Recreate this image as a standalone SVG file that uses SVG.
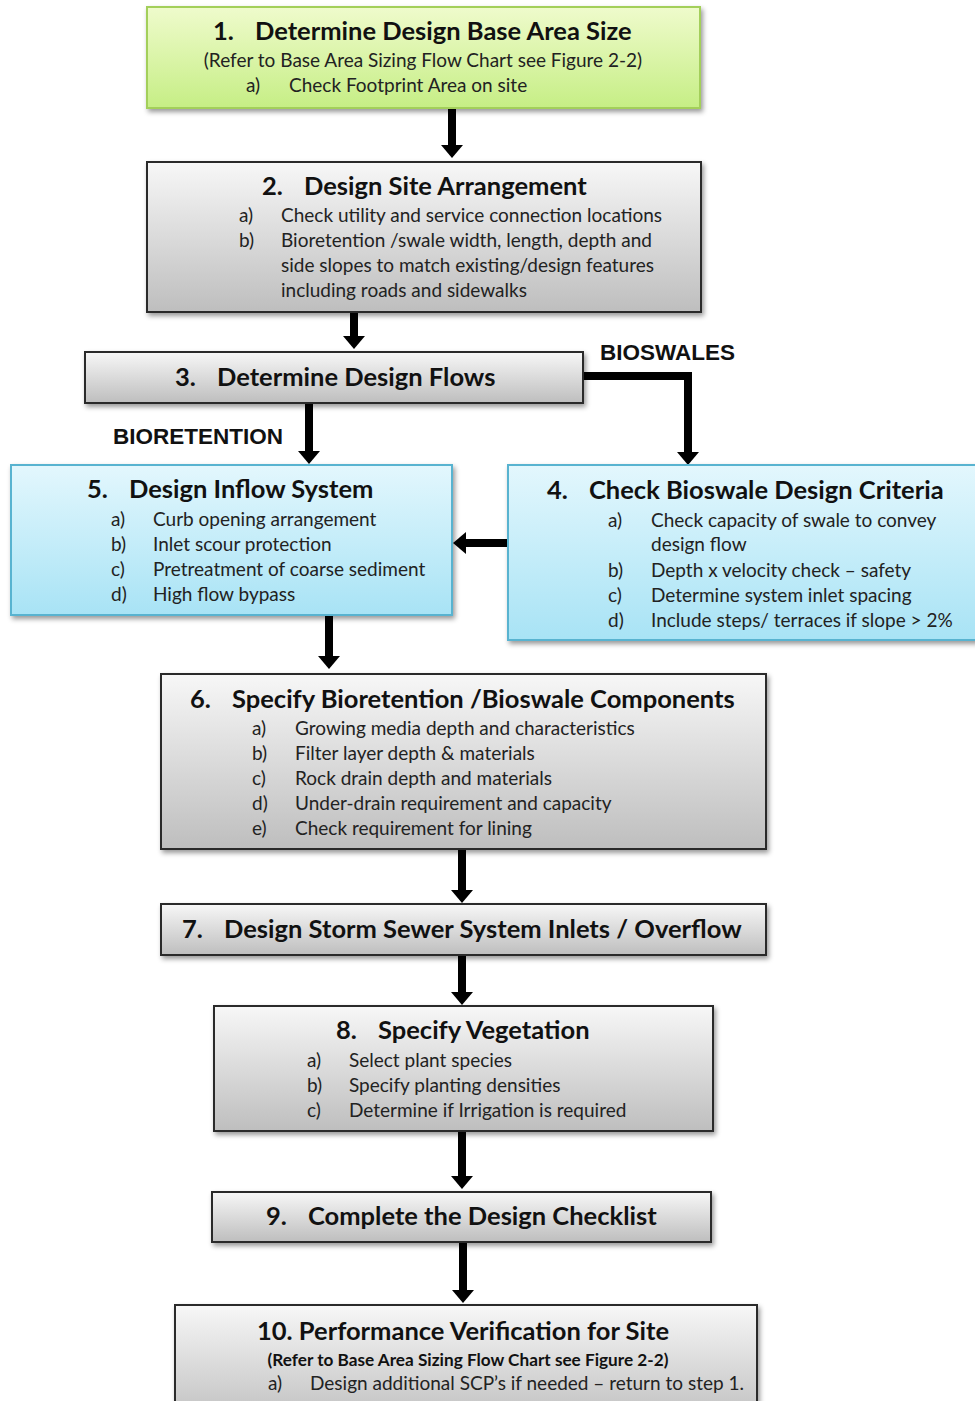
<svg xmlns="http://www.w3.org/2000/svg" width="975" height="1401" viewBox="0 0 975 1401">
<defs>
<linearGradient id="gGray" x1="0" y1="0" x2="0" y2="1"><stop offset="0" stop-color="#f7f7f7"/><stop offset="1" stop-color="#bebebe"/></linearGradient>
<linearGradient id="gGreen" x1="0" y1="0" x2="0" y2="1"><stop offset="0" stop-color="#effbcc"/><stop offset="1" stop-color="#c6ee85"/></linearGradient>
<linearGradient id="gBlue" x1="0" y1="0" x2="0" y2="1"><stop offset="0" stop-color="#e3f7fd"/><stop offset="1" stop-color="#a8e3f5"/></linearGradient>
<filter id="sh" x="-5%" y="-10%" width="112%" height="130%"><feDropShadow dx="2" dy="3" stdDeviation="2.5" flood-color="#000" flood-opacity="0.4"/></filter>
<marker id="ah" markerUnits="userSpaceOnUse" markerWidth="14" markerHeight="22" viewBox="0 0 14 22" refX="0" refY="11" orient="auto"><path d="M0,0 L13,11 L0,22 z" fill="#000"/></marker>
<style>
.gray{fill:url(#gGray);stroke:#2b2b2b;stroke-width:2;filter:url(#sh)}
.green{fill:url(#gGreen);stroke:#a3cf5a;stroke-width:2;filter:url(#sh)}
.blue{fill:url(#gBlue);stroke:#58b3d0;stroke-width:2;filter:url(#sh)}
.t{font-family:Lato,"Open Sans","Liberation Sans",sans-serif;font-weight:bold;font-size:25.5px;fill:#111}
.s{font-family:Lato,"Open Sans","Liberation Sans",sans-serif;font-size:19px;fill:#222}
.sb{font-family:Lato,"Open Sans","Liberation Sans",sans-serif;font-weight:bold;font-size:17.2px;fill:#111}
.lab{font-family:"Liberation Sans",Arial,sans-serif;font-weight:bold;font-size:22.5px;fill:#111}
.c{fill:none;stroke:#000;stroke-width:8;marker-end:url(#ah)}
</style>
</defs>
<g id="connectors">
<path class="c" d="M452,109 V145"/>
<path class="c" d="M354,313 V336"/>
<path class="c" d="M583,376 H688 V452"/>
<path class="c" d="M309,404 V451"/>
<path class="c" d="M508,543 H466"/>
<path class="c" d="M329,616 V656"/>
<path class="c" d="M462,850 V890"/>
<path class="c" d="M462,956 V992"/>
<path class="c" d="M462,1132 V1176"/>
<path class="c" d="M463,1243 V1290"/>
</g>
<g id="labels">
<text class="lab" x="600" y="360">BIOSWALES</text>
<text class="lab" x="113" y="444">BIORETENTION</text>
</g>
<g id="n1">
<rect class="green" x="147" y="7" width="553" height="101"/>
<text class="t" y="40"><tspan x="213">1.</tspan><tspan x="255">Determine Design Base Area Size</tspan></text>
<text class="s" x="423" y="67" text-anchor="middle">(Refer to Base Area Sizing Flow Chart see Figure 2-2)</text>
<text class="s" y="92"><tspan x="246">a)</tspan><tspan x="289">Check Footprint Area on site</tspan></text>
</g>
<g id="n2">
<rect class="gray" x="147" y="162" width="554" height="150"/>
<text class="t" y="195"><tspan x="262">2.</tspan><tspan x="304">Design Site Arrangement</tspan></text>
<text class="s" y="222"><tspan x="239">a)</tspan><tspan x="281">Check utility and service connection locations</tspan></text>
<text class="s" y="247"><tspan x="239">b)</tspan><tspan x="281">Bioretention  /swale width, length, depth and</tspan></text>
<text class="s" x="281" y="272">side slopes to match existing/design features</text>
<text class="s" x="281" y="297">including roads and sidewalks</text>
</g>
<g id="n3">
<rect class="gray" x="85" y="352" width="498" height="51"/>
<text class="t" y="386"><tspan x="175">3.</tspan><tspan x="217">Determine Design Flows</tspan></text>
</g>
<g id="n5">
<rect class="blue" x="11" y="465" width="441" height="150"/>
<text class="t" y="498"><tspan x="87">5.</tspan><tspan x="129">Design Inflow System</tspan></text>
<text class="s" y="526"><tspan x="111">a)</tspan><tspan x="153">Curb opening arrangement</tspan></text>
<text class="s" y="551"><tspan x="111">b)</tspan><tspan x="153">Inlet scour protection</tspan></text>
<text class="s" y="576"><tspan x="111">c)</tspan><tspan x="153">Pretreatment of coarse sediment</tspan></text>
<text class="s" y="601"><tspan x="111">d)</tspan><tspan x="153">High flow bypass</tspan></text>
</g>
<g id="n4">
<rect class="blue" x="508" y="465" width="480" height="175"/>
<text class="t" y="499"><tspan x="547">4.</tspan><tspan x="589">Check Bioswale Design Criteria</tspan></text>
<text class="s" y="527"><tspan x="608">a)</tspan><tspan x="651">Check capacity of swale to convey</tspan></text>
<text class="s" x="651" y="551">design flow</text>
<text class="s" y="577"><tspan x="608">b)</tspan><tspan x="651">Depth x velocity check – safety</tspan></text>
<text class="s" y="602"><tspan x="608">c)</tspan><tspan x="651">Determine system inlet spacing</tspan></text>
<text class="s" y="627"><tspan x="608">d)</tspan><tspan x="651">Include steps/ terraces if slope &gt; 2%</tspan></text>
</g>
<g id="n6">
<rect class="gray" x="161" y="674" width="605" height="175"/>
<text class="t" y="708"><tspan x="190">6.</tspan><tspan x="232">Specify Bioretention /Bioswale Components</tspan></text>
<text class="s" y="735"><tspan x="252">a)</tspan><tspan x="295">Growing media depth and characteristics</tspan></text>
<text class="s" y="760"><tspan x="252">b)</tspan><tspan x="295">Filter layer depth &amp; materials</tspan></text>
<text class="s" y="785"><tspan x="252">c)</tspan><tspan x="295">Rock drain depth and materials</tspan></text>
<text class="s" y="810"><tspan x="252">d)</tspan><tspan x="295">Under-drain requirement and capacity</tspan></text>
<text class="s" y="835"><tspan x="252">e)</tspan><tspan x="295">Check requirement for lining</tspan></text>
</g>
<g id="n7">
<rect class="gray" x="161" y="904" width="605" height="51"/>
<text class="t" y="938"><tspan x="182">7.</tspan><tspan x="224">Design Storm Sewer System Inlets / Overflow</tspan></text>
</g>
<g id="n8">
<rect class="gray" x="214" y="1006" width="499" height="125"/>
<text class="t" y="1039"><tspan x="336">8.</tspan><tspan x="378">Specify Vegetation</tspan></text>
<text class="s" y="1067"><tspan x="307">a)</tspan><tspan x="349">Select plant species</tspan></text>
<text class="s" y="1092"><tspan x="307">b)</tspan><tspan x="349">Specify planting densities</tspan></text>
<text class="s" y="1117"><tspan x="307">c)</tspan><tspan x="349">Determine if Irrigation is required</tspan></text>
</g>
<g id="n9">
<rect class="gray" x="212" y="1192" width="499" height="50"/>
<text class="t" y="1225"><tspan x="266">9.</tspan><tspan x="308">Complete the Design Checklist</tspan></text>
</g>
<g id="n10">
<rect class="gray" x="175" y="1305" width="582" height="120"/>
<text class="t" x="257" y="1340">10. Performance Verification for Site</text>
<text class="sb" x="468" y="1366" text-anchor="middle">(Refer to Base Area Sizing Flow Chart see Figure 2-2)</text>
<text class="s" y="1390"><tspan x="268">a)</tspan><tspan x="310">Design additional SCP’s if needed – return to step 1.</tspan></text>
</g>
</svg>
